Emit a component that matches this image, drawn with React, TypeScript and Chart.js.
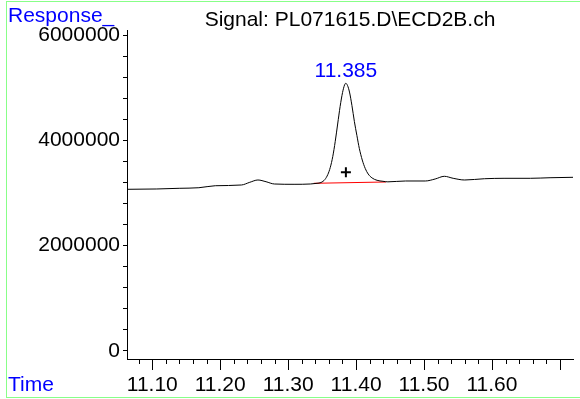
import React, { useEffect, useRef } from "react";
import { Chart, registerables } from "chart.js";

Chart.register(...registerables);

// ---- data ----
const times = [
  11.063, 11.1058, 11.1396, 11.1686, 11.1928, 11.2313, 11.2435, 11.2555, 11.2675, 11.2797,
  11.3087, 11.3328, 11.3425, 11.3483, 11.3541, 11.3584, 11.362, 11.3657, 11.3693, 11.3729,
  11.3765, 11.3801, 11.383, 11.3849, 11.3874, 11.3903, 11.3939, 11.3975, 11.4012, 11.4048,
  11.4091, 11.4135, 11.4178, 11.4236, 11.4309, 11.4396, 11.4468, 11.4729, 11.5019, 11.5164,
  11.5299, 11.5429, 11.5599, 11.5889, 11.6178, 11.6565, 11.6855, 11.7193,
];
const responses = [
  3070000, 3076000, 3089000, 3100000, 3138000, 3152000, 3203000, 3247000, 3214000, 3171000,
  3165000, 3171000, 3184000, 3199000, 3256000, 3351000, 3484000, 3693000, 3978000, 4310000,
  4642000, 4908000, 5050000, 5083000, 5041000, 4917000, 4661000, 4357000, 4092000, 3845000,
  3626000, 3465000, 3361000, 3285000, 3241000, 3222000, 3212000, 3228000, 3228000, 3266000,
  3317000, 3279000, 3247000, 3271000, 3279000, 3279000, 3290000, 3298000,
];
const baselineTimes = [11.3377, 11.4439];
const baselineResponses = [3184000, 3209000];
const peakTime = 11.385;
const peakApex = 5083000;
const markerResponse = 3393000;
const peakLabel = "11.385";

const xTickLabels = ["11.10", "11.20", "11.30", "11.40", "11.50", "11.60"];
const yTickLabels = ["0", "2000000", "4000000", "6000000"];

const titleText = "Signal: PL071615.D\\ECD2B.ch";
const yAxisName = "Response_";
const xAxisName = "Time";

const FONT = "'Liberation Sans', Arial, sans-serif";

export default function App() {
  const ref = useRef<HTMLCanvasElement | null>(null);

  useEffect(() => {
    const canvas = ref.current;
    if (!canvas) return;

    const decor = {
      id: "decor",
      beforeDraw(chart: any) {
        const ctx = chart.ctx;
        ctx.save();
        ctx.fillStyle = "#ffffff";
        ctx.fillRect(0, 0, chart.width, chart.height);
        ctx.strokeStyle = "#88ff88";
        ctx.lineWidth = 1;
        ctx.strokeRect(6.5, 1.5, 600, 396);
        ctx.restore();
      },
      afterDraw(chart: any) {
        const ctx = chart.ctx;
        const xs = chart.scales.x;
        const ys = chart.scales.y;
        const area = chart.chartArea;
        ctx.save();
        // x tick marks (minor/major)
        ctx.strokeStyle = "#000";
        ctx.lineWidth = 1;
        xs.ticks.forEach((t: any) => {
          const px = xs.getPixelForValue(t.value);
          if (px < area.left - 0.5 || px > area.right + 0.5) return;
          const major = Math.abs(t.value * 10 - Math.round(t.value * 10)) < 1e-6;
          const len = major ? 11 : 5;
          const x = Math.round(px) + 0.5;
          ctx.beginPath();
          ctx.moveTo(x, area.bottom);
          ctx.lineTo(x, area.bottom + len);
          ctx.stroke();
        });
        // texts
        ctx.font = `21px ${FONT}`;
        ctx.textBaseline = "alphabetic";
        ctx.fillStyle = "#0000ff";
        ctx.textAlign = "left";
        ctx.fillText(yAxisName, 8, 22);
        ctx.fillText(xAxisName, 8, 391);
        ctx.fillStyle = "#000";
        ctx.textAlign = "center";
        ctx.fillText(titleText, (area.left + area.right) / 2, 26);
        // peak label
        ctx.fillStyle = "#0000ff";
        ctx.fillText(peakLabel, xs.getPixelForValue(peakTime), ys.getPixelForValue(peakApex) - 6);
        ctx.restore();
      },
    };

    const chart = new Chart(canvas, {
      type: "line",
      data: {
        datasets: [
          {
            label: "signal",
            data: times.map((t, i) => ({ x: t, y: responses[i] })),
            borderColor: "#000",
            borderWidth: 1,
            pointRadius: 0,
            cubicInterpolationMode: "monotone",
            fill: false,
            order: 1,
          },
          {
            label: "baseline",
            data: baselineTimes.map((t, i) => ({ x: t, y: baselineResponses[i] })),
            borderColor: "#ff0000",
            borderWidth: 1,
            pointRadius: 0,
            fill: false,
            order: 2,
          },
          {
            label: "marker",
            type: "scatter",
            data: [{ x: peakTime, y: markerResponse }],
            pointStyle: "cross",
            pointRadius: 5,
            borderWidth: 2,
            borderColor: "#000",
            backgroundColor: "#000",
            order: 0,
          } as any,
        ],
      },
      options: {
        animation: false,
        responsive: false,
        devicePixelRatio: 1,
        layout: { padding: { top: 30, left: 0, right: 0, bottom: 0 } },
        plugins: { legend: { display: false }, tooltip: { enabled: false }, title: { display: false } },
        scales: {
          x: {
            type: "linear",
            min: 11.0628,
            max: 11.7193,
            afterBuildTicks: (scale: any) => {
              const ticks = [];
              for (let k = 554; k <= 585; k++) ticks.push({ value: k / 50 });
              scale.ticks = ticks;
            },
            afterFit: (scale: any) => {
              scale.height = 40;
            },
            ticks: {
              autoSkip: false,
              maxRotation: 0,
              minRotation: 0,
              padding: 3,
              color: "#000",
              font: { family: FONT, size: 21 },
              callback: (v: any) => {
                const s = Number(v).toFixed(2);
                return xTickLabels.includes(s) ? s : "";
              },
            },
            grid: {
              display: true,
              drawOnChartArea: false,
              drawTicks: true,
              tickLength: 11,
              tickColor: "rgba(0,0,0,0)",
            },
            border: { display: true, color: "#000", width: 1 },
          },
          y: {
            type: "linear",
            min: -152000,
            max: 6095000,
            afterBuildTicks: (scale: any) => {
              const ticks = [];
              for (let k = 0; k <= 15; k++) ticks.push({ value: k * 400000 });
              scale.ticks = ticks;
            },
            afterFit: (scale: any) => {
              scale.width = 127;
            },
            ticks: {
              autoSkip: false,
              padding: 3,
              color: "#000",
              font: { family: FONT, size: 21 },
              callback: (v: any) => {
                const s = String(Math.round(Number(v)));
                return yTickLabels.includes(s) ? s : "";
              },
            },
            grid: {
              display: true,
              drawOnChartArea: false,
              drawTicks: true,
              tickLength: 4,
              tickColor: "#000",
            },
            border: { display: true, color: "#000", width: 1 },
          },
        },
      },
      plugins: [decor],
    });

    return () => chart.destroy();
  }, []);

  return (
    <div style={{ position: "absolute", left: 0, top: 0, width: 580, height: 399 }}>
      <canvas ref={ref} width={580} height={399} style={{ display: "block", width: 580, height: 399 }} />
    </div>
  );
}
